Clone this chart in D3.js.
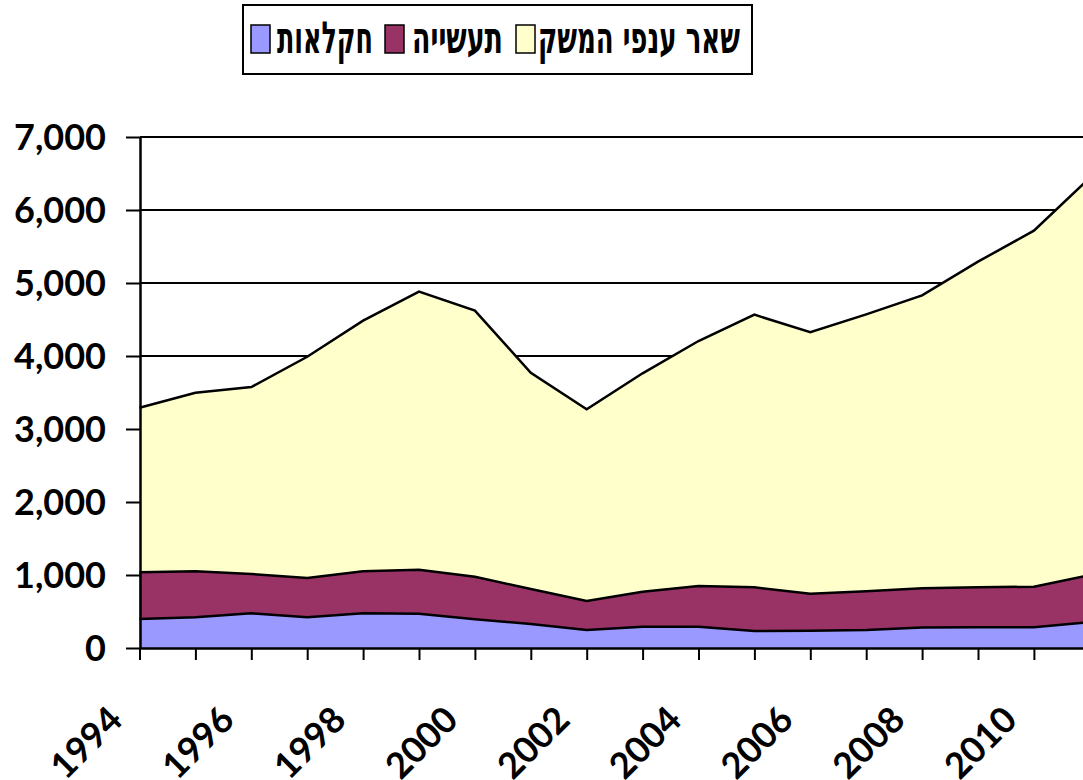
<!DOCTYPE html>
<html><head><meta charset="utf-8">
<script src="https://cdn.jsdelivr.net/npm/d3@7"></script>
<style>html,body{margin:0;padding:0;background:#fff;overflow:hidden}</style>
</head><body>
<svg id="chart" width="1083" height="780"></svg>
<script>
const years = [1994,1995,1996,1997,1998,1999,2000,2001,2002,2003,2004,2005,2006,2007,2008,2009,2010,2011];
const agriculture   = [397,420,475,420,475,470,393,329,247,292,292,233,237,247,280,283,283,355];
const manufacturing = [640,630,539,539,575,603,584,479,397,480,557,598,507,529,537,548,557,645];
const otherBranches = [2255,2447,2561,3031,3434,3808,3644,2963,2626,2991,3356,3735,3581,3795,4013,4461,4877,5440];
const seriesNames = ["חקלאות","תעשייה","שאר ענפי המשק"];
const seriesColors = ["#9999FF","#993366","#FFFFCC"];
const yTicks = [0,1000,2000,3000,4000,5000,6000,7000];
const yearLabels = [1994,1996,1998,2000,2002,2004,2006,2008,2010];

const svg = d3.select("#chart");
const x = d3.scaleLinear().domain([1994,2011]).range([139.5,1089.8]);
const y = d3.scaleLinear().domain([0,7000]).range([648,137]);

const table = years.map((yr,i)=>({year:yr, a:agriculture[i], m:manufacturing[i], o:otherBranches[i]}));
const stack = d3.stack().keys(["a","m","o"])(table);

// gridlines
svg.append("g").selectAll("line").data(yTicks.filter(t=>t>0)).join("line")
  .attr("x1",140).attr("x2",1083).attr("y1",d=>y(d)).attr("y2",d=>y(d))
  .attr("stroke","#000").attr("stroke-width",1.8);

// areas
const area = d3.area().x(d=>x(d.data.year)).y0(d=>y(d[0])).y1(d=>y(d[1]));
const line = d3.line().x(d=>x(d.data.year)).y(d=>y(d[1]));
svg.append("g").selectAll("path").data(stack).join("path")
  .attr("d",area).attr("fill",(d,i)=>seriesColors[i]);
svg.append("g").selectAll("path").data(stack).join("path")
  .attr("d",line).attr("fill","none").attr("stroke","#000").attr("stroke-width",2.5)
  .attr("stroke-linejoin","miter");

// y axis
const yAxis = d3.axisLeft(y).tickValues(yTicks).tickSize(14).tickSizeOuter(0)
  .tickFormat(d3.format(","));
const gy = svg.append("g").attr("transform","translate(140,0)").call(yAxis);
gy.select(".domain").attr("stroke","#000").attr("stroke-width",2.5);
gy.selectAll(".tick line").attr("stroke","#000").attr("stroke-width",2);
gy.selectAll(".tick text").attr("x",-34).attr("dy","0.36em")
  .style("font-family","Lato, 'Open Sans', sans-serif").style("font-weight","bold")
  .style("font-size","36px").attr("fill","#000");

// x axis
const xAxis = d3.axisBottom(x).tickValues(years).tickSize(12).tickSizeOuter(0).tickFormat("");
const gx = svg.append("g").attr("transform","translate(0,648)").call(xAxis);
gx.select(".domain").attr("stroke","#000").attr("stroke-width",2.5);
gx.selectAll(".tick line").attr("stroke","#000").attr("stroke-width",2);
svg.append("g").selectAll("text").data(yearLabels).join("text")
  .attr("transform",d=>`translate(${x(d)-15},722) rotate(-45)`)
  .attr("text-anchor","end")
  .style("font-family","Lato, 'Open Sans', sans-serif").style("font-weight","bold")
  .style("font-size","36px").text(d=>d);

// legend
const lg = svg.append("g");
lg.append("rect").attr("x",243).attr("y",5).attr("width",509).attr("height",69)
  .attr("fill","#fff").attr("stroke","#000").attr("stroke-width",2);
const legendItems = [
  {i:0, sx:251, tx:277, tw:96},
  {i:1, sx:385, tx:412, tw:91},
  {i:2, sx:516, tx:538, tw:202}
];
legendItems.forEach(it=>{
  lg.append("rect").attr("x",it.sx).attr("y",25).attr("width",19).attr("height",28)
    .attr("fill",seriesColors[it.i]).attr("stroke","#000").attr("stroke-width",1.5);
  lg.append("text").attr("x",it.tx).attr("y",53)
    .attr("textLength",it.tw).attr("lengthAdjust","spacingAndGlyphs")
    .style("font-family","'DejaVu Sans', sans-serif")
    .style("font-weight","bold").style("font-size","44px").text(seriesNames[it.i]);
});
</script>
</body></html>
